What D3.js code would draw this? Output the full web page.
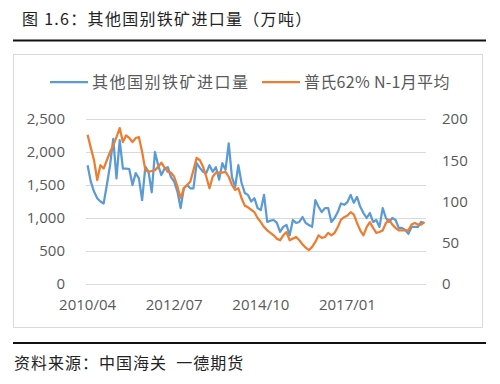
<!DOCTYPE html>
<html>
<head>
<meta charset="utf-8">
<script src="https://cdn.jsdelivr.net/npm/d3@7"></script>
<style>
  body { margin: 0; background: #fff; }
  text { font-family: "Noto Sans CJK SC", "Open Sans", sans-serif; }
</style>
</head>
<body>
<div id="chart"></div>
<script>
// Monthly categories 2010/04 .. 2019/01
const months = [];
for (let y = 2010, m = 4; y < 2019 || (y === 2019 && m <= 1); m++) {
  if (m > 12) { m = 1; y++; }
  if (y === 2019 && m > 1) break;
  months.push(y + "/" + String(m).padStart(2, "0"));
}

// Imports from other countries (万吨), left axis
const otherImports = [
  1800, 1550, 1400, 1300, 1250, 1220, 1500, 1800, 2200, 1600,
  2180, 1750, 1750, 1740, 1500, 1680, 1600, 1270, 1780, 1700,
  1390, 2000, 1800, 1650, 1750, 1770, 1620, 1550, 1400, 1150,
  1450, 1500, 1450, 1450, 1830, 1760, 1700, 1680, 1800, 1700,
  1770, 1580, 1830, 1730, 2130, 1620, 1470, 1800, 1530, 1380,
  1350, 1250, 1300, 1150, 1120, 1350, 940, 960, 970, 925,
  790, 865, 895, 740, 970, 925, 940, 1015, 925, 895,
  865, 1270, 1170, 1090, 1150, 1150, 940, 1000, 1090, 1220,
  1200, 1240, 1350, 1230, 1320, 1170, 1075, 1000, 1075, 940,
  970, 865, 1150, 1000, 940, 1000, 970, 850, 850, 820,
  760, 865, 865, 865, 940, 925
];

// Platts 62% index, previous month average, right axis
const platts62 = [
  181, 165, 150, 126, 144, 140, 150, 160, 168, 178,
  189, 172, 180, 177, 172, 177, 178, 160, 138, 136,
  137, 138, 142, 147, 141, 136, 135, 130, 118, 104,
  116, 120, 124, 138, 153, 150, 142, 130, 116, 130,
  135, 135, 135, 136, 130, 120, 114, 116, 104, 95,
  93, 90, 87, 80, 75, 69, 65, 62, 59, 55,
  53, 59, 63, 53, 55, 57, 53, 48, 44, 41,
  45, 51, 59, 56, 57, 62, 59, 62, 69, 78,
  81, 83, 87, 84, 74, 65, 59, 69, 75, 68,
  62, 63, 65, 74, 78, 72, 68, 65, 65, 65,
  65, 72, 74, 72, 72, 75
];

const leftTicks = [0, 500, 1000, 1500, 2000, 2500];
const rightTicks = [0, 50, 100, 150, 200];
const xLabels = ["2010/04", "2012/07", "2014/10", "2017/01"];

const width = 500;
const height = 384;
const plot = { left: 86, right: 426, top: 119, bottom: 284 };
const blue = "#5B9BD5";
const orange = "#ED7D31";
const grey = "#595959";

const svg = d3.select("#chart")
  .append("svg")
  .attr("width", width)
  .attr("height", height);

// Title and separators
svg.append("text")
  .attr("x", 22)
  .attr("y", 25)
  .attr("font-size", 16)
  .attr("letter-spacing", 1.3)
  .attr("fill", "#222")
  .text("图 1.6：其他国别铁矿进口量（万吨）");

svg.append("line")
  .attr("x1", 13).attr("x2", 486)
  .attr("y1", 40.5).attr("y2", 40.5)
  .attr("stroke", "#111").attr("stroke-width", 2);

// Chart frame
svg.append("rect")
  .attr("x", 13.5).attr("y", 54.5)
  .attr("width", 469).attr("height", 273)
  .attr("fill", "none")
  .attr("stroke", "#d9d9d9");

svg.append("line")
  .attr("x1", 13).attr("x2", 486)
  .attr("y1", 343).attr("y2", 343)
  .attr("stroke", "#111").attr("stroke-width", 2);

svg.append("text")
  .attr("x", 14)
  .attr("y", 369)
  .attr("font-size", 16)
  .attr("letter-spacing", 1)
  .attr("fill", "#222")
  .attr("xml:space", "preserve")
  .text("资料来源：中国海关  一德期货");

// Scales
const x = d3.scaleBand()
  .domain(months)
  .range([plot.left, plot.right]);

const yLeft = d3.scaleLinear()
  .domain([0, 2500])
  .range([plot.bottom, plot.top]);

const yRight = d3.scaleLinear()
  .domain([0, 200])
  .range([plot.bottom, plot.top]);

// Gridlines
svg.append("g")
  .selectAll("line")
  .data(leftTicks)
  .enter().append("line")
    .attr("x1", plot.left).attr("x2", plot.right)
    .attr("y1", d => Math.round(yLeft(d)) + 0.5)
    .attr("y2", d => Math.round(yLeft(d)) + 0.5)
    .attr("stroke", "#d9d9d9");

// Left axis
const axisLeft = svg.append("g")
  .attr("transform", `translate(${plot.left - 21}, 0)`)
  .call(d3.axisLeft(yLeft).tickValues(leftTicks).tickFormat(d3.format(",")).tickSize(0).tickPadding(0));
axisLeft.select(".domain").remove();
axisLeft.selectAll("text")
  .attr("font-size", 15)
  .attr("fill", grey)
  .style("font-family", "'Open Sans', sans-serif");

// Right axis
const axisRight = svg.append("g")
  .attr("transform", `translate(${plot.right + 16}, 0)`)
  .call(d3.axisRight(yRight).tickValues(rightTicks).tickSize(0).tickPadding(0));
axisRight.select(".domain").remove();
axisRight.selectAll("text")
  .attr("font-size", 15)
  .attr("fill", grey)
  .style("font-family", "'Open Sans', sans-serif");

// Bottom axis
const axisBottom = svg.append("g")
  .attr("transform", `translate(0, ${plot.bottom + 15})`)
  .call(d3.axisBottom(x).tickValues(xLabels).tickSize(0).tickPadding(0));
axisBottom.select(".domain").remove();
axisBottom.selectAll("text")
  .attr("font-size", 15)
  .attr("fill", grey)
  .style("font-family", "'Open Sans', sans-serif");

// Lines
const cx = (d, i) => x(months[i]) + x.bandwidth() / 2;

svg.append("path")
  .datum(otherImports)
  .attr("fill", "none")
  .attr("stroke", blue)
  .attr("stroke-width", 2.25)
  .attr("stroke-linejoin", "round")
  .attr("d", d3.line().x(cx).y(d => yLeft(d)));

svg.append("path")
  .datum(platts62)
  .attr("fill", "none")
  .attr("stroke", orange)
  .attr("stroke-width", 2.25)
  .attr("stroke-linejoin", "round")
  .attr("d", d3.line().x(cx).y(d => yRight(d)));

// Legend
const legend = [
  { label: "其他国别铁矿进口量", color: blue, x: 50, spacing: 1.5 },
  { label: "普氏62% N-1月平均", color: orange, x: 262, spacing: 0.3 }
];

const lg = svg.append("g").selectAll("g")
  .data(legend)
  .enter().append("g")
    .attr("transform", d => `translate(${d.x}, 82)`);

lg.append("line")
  .attr("x1", 0).attr("x2", 38)
  .attr("stroke", d => d.color)
  .attr("stroke-width", 2.25);

lg.append("text")
  .attr("x", 42)
  .attr("y", 6)
  .attr("font-size", 16)
  .attr("letter-spacing", d => d.spacing)
  .attr("fill", grey)
  .text(d => d.label);
</script>
</body>
</html>
